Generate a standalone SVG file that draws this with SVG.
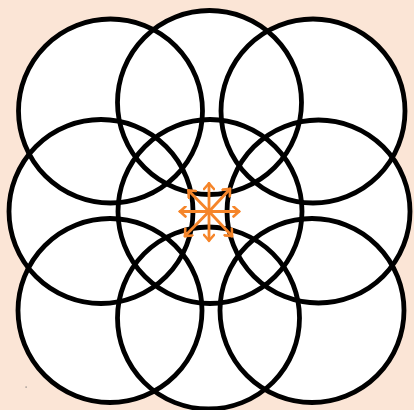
<svg xmlns="http://www.w3.org/2000/svg" width="414" height="410" viewBox="0 0 414 410">
<defs>
<style>
.bg{fill:#fbe5d6}
.fill circle{fill:#ffffff;stroke:none}
.ring{fill:none;stroke:#000000;stroke-width:4.8}
.arr{stroke:#f5852a;stroke-width:2.8;fill:none;stroke-linecap:round}
</style>
<marker id="ah" viewBox="-8 -6 10 12" markerWidth="10" markerHeight="12" markerUnits="userSpaceOnUse" refX="0" refY="0" orient="auto">
<path d="M-5.5,-5 L0,0 L-5.5,5" fill="none" stroke="#f5852a" stroke-width="2.6" stroke-linecap="round" stroke-linejoin="miter"/>
</marker>
</defs>
<rect class="bg" x="0" y="0" width="414" height="410"/>
<g class="fill">
<circle cx="110.5" cy="111" r="92"/>
<circle cx="209.5" cy="102.5" r="92"/>
<circle cx="313" cy="111" r="92"/>
<circle cx="101" cy="211.5" r="92"/>
<circle cx="210" cy="211.5" r="92"/>
<circle cx="318.5" cy="211.5" r="91.5"/>
<circle cx="110" cy="310.5" r="92"/>
<circle cx="208.5" cy="318" r="91"/>
<circle cx="312" cy="310.5" r="92"/>
</g>
<g id="c-top-left"><circle class="ring" cx="110.5" cy="111" r="92"/></g>
<g id="c-top-mid"><circle class="ring" cx="209.5" cy="102.5" r="92"/></g>
<g id="c-top-right"><circle class="ring" cx="313" cy="111" r="92"/></g>
<g id="c-mid-left"><circle class="ring" cx="101" cy="211.5" r="92"/></g>
<g id="c-center"><circle class="ring" cx="210" cy="211.5" r="92"/></g>
<g id="c-mid-right"><circle class="ring" cx="318.5" cy="211.5" r="91.5"/></g>
<g id="c-bot-left"><circle class="ring" cx="110" cy="310.5" r="92"/></g>
<g id="c-bot-mid"><circle class="ring" cx="208.5" cy="318" r="91"/></g>
<g id="c-bot-right"><circle class="ring" cx="312" cy="310.5" r="92"/></g>
<g id="connectors" class="arr">
<line x1="209" y1="211.5" x2="209" y2="183.5" marker-end="url(#ah)"/>
<line x1="209" y1="211.5" x2="209" y2="240.5" marker-end="url(#ah)"/>
<line x1="209" y1="211.5" x2="180" y2="211.5" marker-end="url(#ah)"/>
<line x1="209" y1="211.5" x2="239" y2="211.5" marker-end="url(#ah)"/>
<line x1="209" y1="211.5" x2="230" y2="189" marker-end="url(#ah)"/>
<line x1="209" y1="211.5" x2="188.5" y2="190.5" marker-end="url(#ah)"/>
<line x1="209" y1="211.5" x2="185" y2="236" marker-end="url(#ah)"/>
<line x1="209" y1="211.5" x2="232" y2="236" marker-end="url(#ah)"/>
</g>
<rect x="25.5" y="386.5" width="1.2" height="1.2" fill="#777777"/>
</svg>
